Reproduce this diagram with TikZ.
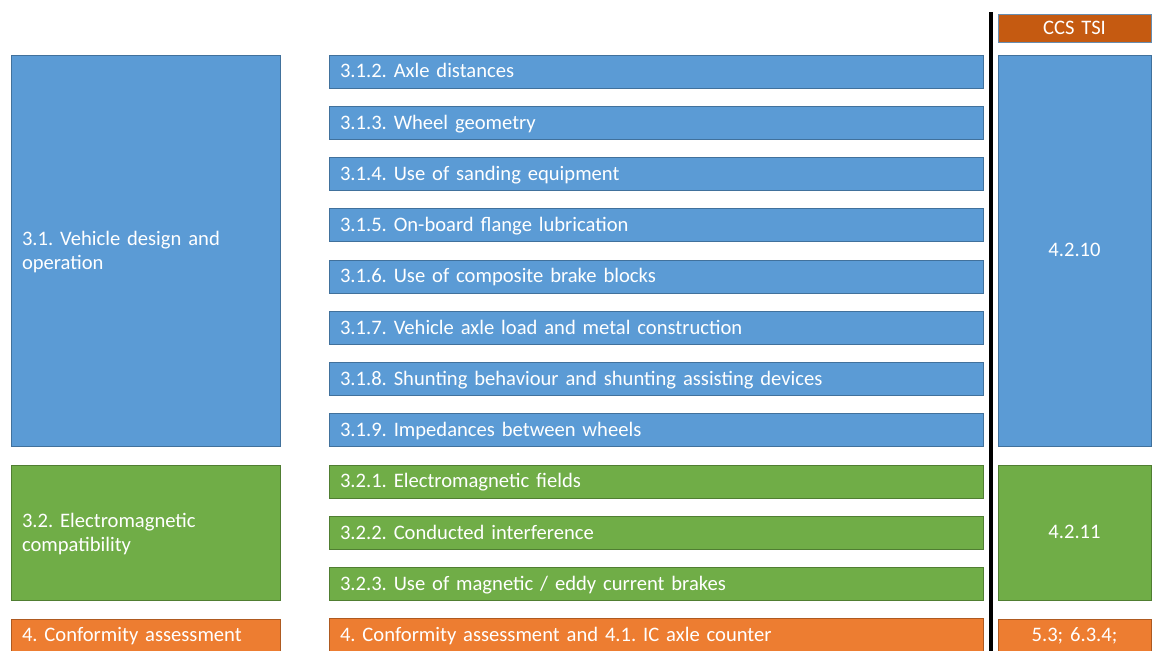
\documentclass[tikz,border=0pt]{standalone}
\usepackage{fontspec}
\setmainfont{Carlito}
\usetikzlibrary{positioning}
\definecolor{blueFill}{HTML}{5B9BD5}
\definecolor{blueLine}{HTML}{41719C}
\definecolor{greenFill}{HTML}{70AD47}
\definecolor{greenLine}{HTML}{507E32}
\definecolor{orangeFill}{HTML}{ED7D31}
\definecolor{orangeLine}{HTML}{AE5A21}
\definecolor{tsiFill}{HTML}{C55A11}

\begin{document}
\begin{tikzpicture}[x = 1pt, y = -1pt, on grid, node distance = 51.27pt,
	box/.style = {rectangle, draw, line width = 1pt, text = white, inner xsep = 11pt, inner ysep = 0pt,
		font = \fontsize{20.6}{24.5}\selectfont\frenchspacing, minimum height = 33pt},
	oneline/.style = {text height = 15.5pt, text depth = 3pt},
	row/.style = {box, oneline, minimum width = 654pt, text width = 632pt, align = left},
	group/.style = {box, text depth = 24.5pt, minimum width = 269pt, text width = 247pt, align = left},
	ref/.style = {box, oneline, minimum width = 153pt, text width = 131pt, align = center},
	bluebox/.style = {fill = blueFill, draw = blueLine},
	greenbox/.style = {fill = greenFill, draw = greenLine},
	orangebox/.style = {fill = orangeFill, draw = orangeLine}]
		\useasboundingbox (0,0) rectangle (1152,651);
		\node (r312) [row, bluebox] at (656,71.5) {3.1.2. Axle distances};
		\node (r313) [row, bluebox, below = of r312] {3.1.3. Wheel geometry};
		\node (r314) [row, bluebox, below = of r313] {3.1.4. Use of sanding equipment};
		\node (r315) [row, bluebox, below = of r314] {3.1.5. On-board flange lubrication};
		\node (r316) [row, bluebox, below = of r315] {3.1.6. Use of composite brake blocks};
		\node (r317) [row, bluebox, below = of r316] {3.1.7. Vehicle axle load and metal construction};
		\node (r318) [row, bluebox, below = of r317] {3.1.8. Shunting behaviour and shunting assisting devices};
		\node (r319) [row, bluebox, below = of r318] {3.1.9. Impedances between wheels};
		\node (r321) [row, greenbox, below = of r319] {3.2.1. Electromagnetic fields};
		\node (r322) [row, greenbox, below = of r321] {3.2.2. Conducted interference};
		\node (r323) [row, greenbox, below = of r322] {3.2.3. Use of magnetic / eddy current brakes};
		\node (r4) [row, orangebox, below = of r323] {4. Conformity assessment and 4.1. IC axle counter};

		\node (g31) [group, bluebox, minimum height = 391pt] at (145.5,250.5) {3.1. Vehicle design and\\operation};
		\node (g32) [group, greenbox, minimum height = 135pt] at (145.5,532.5) {3.2. Electromagnetic\\compatibility};
		\node (g4) [group, oneline, orangebox] at (145.5,635.5) {4. Conformity assessment};

		\node (tsi) [ref, fill = tsiFill, draw = blueLine!80, minimum height = 28pt] at (1074.5,28) {CCS TSI};
		\node (c4210) [ref, bluebox, minimum height = 391pt] at (1074.5,250.5) {4.2.10};
		\node (c4211) [ref, greenbox, minimum height = 135pt] at (1074.5,532.5) {4.2.11};
		\node (c53) [ref, orangebox] at (1074.5,635.5) {5.3; 6.3.4;};

		\coordinate (top) at (991,12);
		\coordinate (bottom) at (991,651);
		\draw[line width = 4pt] (top) -- (bottom);
\end{tikzpicture}
\end{document}
